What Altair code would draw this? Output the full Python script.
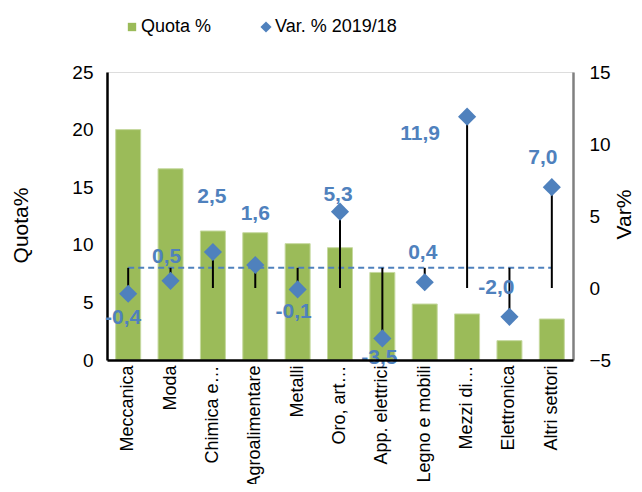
import altair as alt
import pandas as pd

# ---- data ----
categories = ["Meccanica", "Moda", "Chimica e…", "Agroalimentare", "Metalli", "Oro, art…",
              "App. elettrici", "Legno e mobili", "Mezzi di…", "Elettronica", "Altri settori"]
quota = [20.0, 16.6, 11.2, 11.05, 10.1, 9.75, 7.6, 4.86, 4.0, 1.68, 3.56]
var = [-0.4, 0.5, 2.5, 1.6, -0.1, 5.3, -3.5, 0.4, 11.9, -2.0, 7.0]
avg_var = 1.4
series = ["Quota %", "Var. % 2019/18"]

# ---- layout (label offsets in px, relative to the diamond) ----
label_dx = [-5, -4, -1, 0, -4, -2, -3, -2, -47, -13, -9]
label_dy = [24, -24, -55, -51, 23, -17, 20, -29, 17, -29, -29]

GREEN = "#9BBB59"
BLUE = "#4F81BD"
FONT = "Liberation Sans"

df = pd.DataFrame({"cat": categories, "quota": quota, "var": var})
df["lab"] = [f"{v:.1f}".replace(".", ",") for v in var]
leg_df = pd.DataFrame({"s": series})

X = alt.X("cat:N", sort=categories, title=None,
          scale=alt.Scale(paddingInner=0.41),
          axis=alt.Axis(labelAngle=270, labelAlign="right", labelBaseline="middle",
                        labelPadding=5, ticks=False, domainColor="black", domainWidth=2.5,
                        labelFontSize=18, labelColor="black", labelFont=FONT, zindex=1,
                        labelLimit=300))

vscale = alt.Scale(domain=[-5, 15], nice=False, zero=False)
vaxis = alt.Axis(orient="right", values=[-5, 0, 5, 10, 15], title="Var%", grid=False,
                 ticks=False, domainColor="#808080", domainWidth=2.5,
                 labelPadding=16, labelFontSize=19, labelColor="black", labelFont=FONT,
                 titleFontSize=21, titleFontWeight="normal", titleFont=FONT,
                 titleColor="black", titleAngle=270, titleX=51, titleY=142,
                 titleAlign="center", titleBaseline="middle")

bars = alt.Chart(df).mark_bar(color=GREEN, stroke="#C6D9A0", strokeWidth=1).encode(
    x=X,
    y=alt.Y("quota:Q", scale=alt.Scale(domain=[0, 25], nice=False),
            axis=alt.Axis(values=[0, 5, 10, 15, 20, 25], title="Quota%", grid=False,
                          ticks=False, domainColor="black", domainWidth=2.5,
                          labelPadding=14, labelFontSize=19, labelColor="black", labelFont=FONT,
                          titleFontSize=21, titleFontWeight="normal", titleFont=FONT,
                          titleColor="black", titleAngle=270, titleX=-86, titleY=153,
                          titleAlign="center", titleBaseline="middle"))
)

dashed = alt.Chart(df).transform_calculate(avg=str(avg_var)).mark_line(
    color=BLUE, strokeDash=[6, 4], strokeWidth=2).encode(
    x=X, y=alt.Y("avg:Q", scale=vscale, axis=vaxis, title="Var%"))

rules = alt.Chart(df).transform_calculate(
    base=f"datum.var > {avg_var} ? 0 : {avg_var}").mark_rule(
    color="black", strokeWidth=2).encode(
    x=X, y=alt.Y("base:Q", scale=vscale, axis=vaxis, title="Var%"), y2="var:Q")

points = alt.Chart(df).mark_point(shape="diamond", filled=True, size=330, color=BLUE,
                                  opacity=1).encode(
    x=X, y=alt.Y("var:Q", scale=vscale, axis=vaxis, title="Var%"))

labels = []
for i, c in enumerate(categories):
    labels.append(
        alt.Chart(df).transform_filter(alt.datum.cat == c).mark_text(
            dx=label_dx[i], dy=label_dy[i], fontWeight="bold", fontSize=21, font=FONT,
            color=BLUE, align="center", baseline="middle").encode(
            x=X, y=alt.Y("var:Q", scale=vscale, axis=vaxis, title="Var%"), text="lab:N")
    )

legend_layer = alt.Chart(leg_df).transform_filter("false").mark_point(
    filled=True, opacity=1).encode(
    color=alt.Color("s:N", scale=alt.Scale(domain=series, range=[GREEN, BLUE]),
                    legend=alt.Legend(orient="none", legendX=16, legendY=-54,
                                      direction="horizontal", title=None,
                                      labelFontSize=18, labelFont=FONT, labelColor="black",
                                      symbolOpacity=1, symbolStrokeWidth=0,
                                      columnPadding=45, labelOffset=0)),
    shape=alt.Shape("s:N", scale=alt.Scale(domain=series, range=["square", "diamond"])),
    size=alt.Size("s:N", scale=alt.Scale(domain=series, range=[70, 125]))
)

right = alt.layer(dashed, rules, points, *labels, legend_layer)

chart = alt.layer(bars, right).resolve_scale(y="independent").properties(
    width=466, height=288,
    autosize=alt.AutoSizeParams(type="none"),
    padding={"left": 99, "top": 64, "right": 61, "bottom": 124},
).configure_view(stroke=None).configure(font=FONT)

chart.save("out.html", embed_options={"renderer": "svg", "actions": False})
